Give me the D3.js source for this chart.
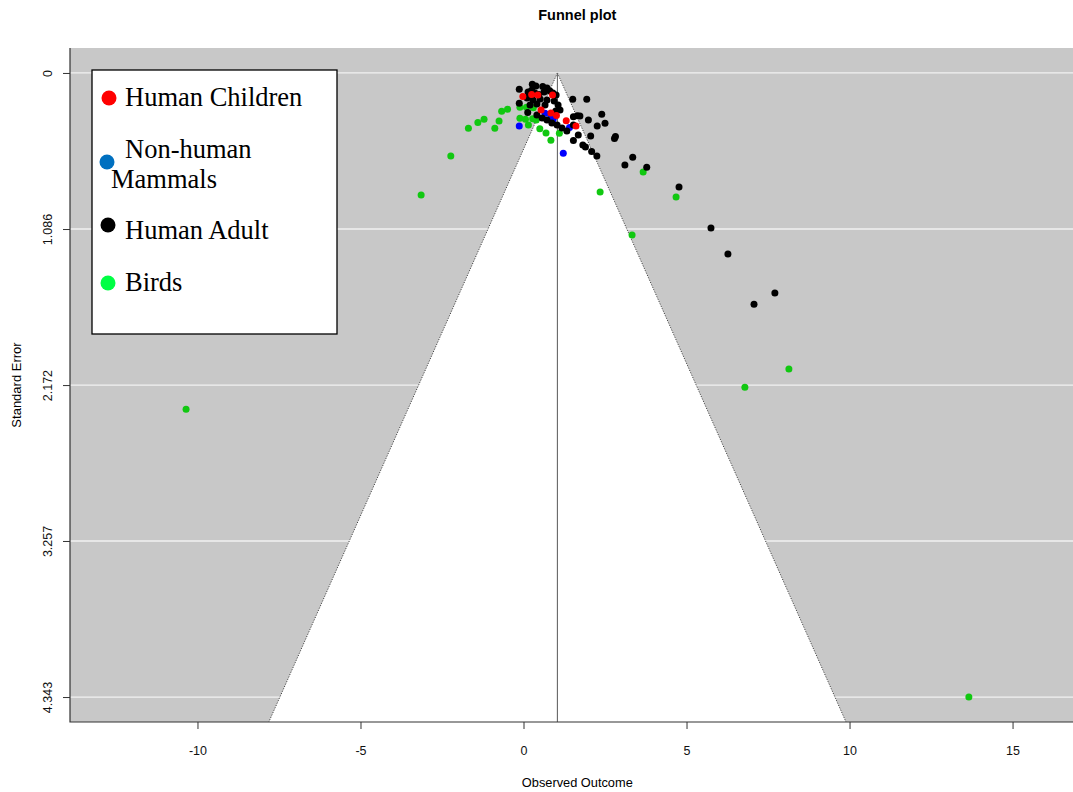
<!DOCTYPE html>
<html>
<head>
<meta charset="utf-8">
<script src="https://cdn.jsdelivr.net/npm/d3@7"></script>
<style>
  html, body { margin: 0; padding: 0; background: #fff; }
  svg { display: block; }
</style>
</head>
<body>
<svg id="chart" width="1073" height="792"></svg>
<script>
// Pooled estimate and axis settings
const pooledEstimate = 1.04;
const maxSE = 4.343;
const xTicks = [-10, -5, 0, 5, 10, 15];
const yTicks = [0, 1.086, 2.172, 3.257, 4.343];
const yTickLabels = ["0", "1.086", "2.172", "3.257", "4.343"];

// Study estimates (observed outcome) and standard errors, by group
const birdsX = [-10.35, -3.14, -2.23, -1.69, -1.40, -1.21, -0.88, -0.75, -0.67, -0.49,
  -0.11, 0.09, 0.30, -0.11, 0.06, 0.15, 0.39, 0.50, 0.69, 0.84, 1.10,
  2.35, 3.67, 4.68, 3.33, 6.79, 8.14, 13.66, 0.28];
const birdsSE = [2.340, 0.850, 0.578, 0.385, 0.345, 0.322, 0.385, 0.334, 0.266, 0.253,
  0.239, 0.239, 0.242, 0.315, 0.322, 0.362, 0.327, 0.389, 0.418, 0.469, 0.420,
  0.829, 0.689, 0.864, 1.128, 2.187, 2.061, 4.343, 0.318];

const mammalsX = [-0.13, 0.66, 0.91, 1.41, 1.22, 0.84];
const mammalsSE = [0.369, 0.281, 0.322, 0.380, 0.559, 0.300];

const adultsX = [-0.13, 0.27, 0.38, 0.59, 0.72, 0.14, 0.35, 0.63, 0.81, 0.90, 1.00,
  0.11, 0.29, 0.51, 0.72, 0.94, -0.13, 0.20, 0.41, 0.66, 1.06, 1.12, 0.13,
  0.41, 0.57, 0.72, 0.87, 1.03, 1.18, 1.33,
  1.51, 1.94, 1.65, 1.99, 1.53, 1.73, 1.53, 1.68, 1.53, 2.06, 1.82, 1.90, 2.09, 2.25,
  2.40, 2.50, 2.26, 2.79, 2.82, 3.35, 3.11, 3.78, 4.77, 5.75, 6.27, 7.71, 7.07,
  0.47, 0.99, 0.25];
const adultsSE = [0.114, 0.079, 0.091, 0.095, 0.104, 0.132, 0.139, 0.132, 0.125, 0.139, 0.153,
  0.174, 0.188, 0.181, 0.188, 0.195, 0.211, 0.223, 0.216, 0.223, 0.223, 0.258, 0.276,
  0.292, 0.313, 0.327, 0.348, 0.362, 0.383, 0.404,
  0.183, 0.183, 0.297, 0.327, 0.304, 0.299, 0.362, 0.432, 0.470, 0.439, 0.501, 0.515, 0.547, 0.578,
  0.288, 0.350, 0.369, 0.456, 0.442, 0.587, 0.641, 0.657, 0.794, 1.079, 1.260, 1.532, 1.609,
  0.150, 0.265, 0.120];

const childrenX = [-0.02, 0.25, 0.89, 0.54, 0.84, 1.01, 1.31, 1.61, 0.44];
const childrenSE = [0.164, 0.150, 0.153, 0.258, 0.279, 0.296, 0.332, 0.369, 0.153];

const legendLabels = [["Human Children"], ["Non-human", "Mammals"], ["Human Adult"], ["Birds"]];
const legendColors = ["#ff0000", "#0070c0", "#000000", "#00ff44"];

const sansFont = "'Liberation Sans', Arial, sans-serif";
const serifFont = "'Liberation Serif', 'Times New Roman', serif";

const svg = d3.select("#chart");

// Plot region (R-style 4% padding around the data limits)
const x = d3.scaleLinear().domain([-13.91, 17.21]).range([70, 1084.6]);
const y = d3.scaleLinear().domain([-0.1737, maxSE + 0.1737]).range([48, 722]);
const [x0, x1] = x.range();
const [y0, y1] = y.range();

svg.append("defs").append("clipPath").attr("id", "plotClip")
  .append("rect").attr("x", x0).attr("y", y0).attr("width", x1 - x0).attr("height", y1 - y0);

const plot = svg.append("g").attr("clip-path", "url(#plotClip)");

// Background and horizontal reference lines
plot.append("rect").attr("x", x0).attr("y", y0).attr("width", x1 - x0).attr("height", y1 - y0)
  .attr("fill", "#c8c8c8");
plot.selectAll("line.grid").data(yTicks).join("line").attr("class", "grid")
  .attr("x1", x0).attr("x2", x1).attr("y1", d => y(d)).attr("y2", d => y(d))
  .attr("stroke", "#f2f2f2").attr("stroke-width", 1.3);

// Pseudo-confidence funnel (estimate ± 1.96·SE)
const seBottom = y.domain()[1];
const funnel = [[pooledEstimate, 0],
  [pooledEstimate + 1.96 * seBottom, seBottom],
  [pooledEstimate - 1.96 * seBottom, seBottom]];
plot.append("path")
  .attr("d", d3.line().x(d => x(d[0])).y(d => y(d[1]))(funnel) + "Z")
  .attr("fill", "#ffffff");
[-1, 1].forEach(s => {
  plot.append("line")
    .attr("x1", x(pooledEstimate)).attr("y1", y(0))
    .attr("x2", x(pooledEstimate + s * 1.96 * seBottom)).attr("y2", y(seBottom))
    .attr("stroke", "#444").attr("stroke-width", 1).attr("stroke-dasharray", "1.2,1.4");
});
plot.append("line")
  .attr("x1", x(pooledEstimate)).attr("x2", x(pooledEstimate))
  .attr("y1", y(0)).attr("y2", y1)
  .attr("stroke", "#666").attr("stroke-width", 1.1);

// Study points
function drawPoints(xs, ses, color) {
  plot.append("g").selectAll("circle").data(xs.map((v, i) => [v, ses[i]])).join("circle")
    .attr("cx", d => x(d[0])).attr("cy", d => y(d[1])).attr("r", 3.5)
    .attr("fill", color);
}
drawPoints(birdsX, birdsSE, "#11c811");
drawPoints(mammalsX, mammalsSE, "#0000ff");
drawPoints(adultsX, adultsSE, "#000000");
drawPoints(childrenX, childrenSE, "#ff0000");

// L-shaped frame
svg.append("path").attr("d", `M${x0},${y0}V${y1}H${x1}`)
  .attr("fill", "none").attr("stroke", "#333").attr("stroke-width", 1.2);

// Axes
const xAxis = svg.append("g").attr("transform", `translate(0,${y1})`)
  .call(d3.axisBottom(x).tickValues(xTicks).tickSize(7).tickPadding(17).tickFormat(d => String(d)));
xAxis.select(".domain").remove();
xAxis.selectAll("line").attr("stroke", "#333");
xAxis.selectAll("text").attr("font-size", 12.5).attr("fill", "#111")
  .style("font-family", sansFont);

const yAxis = svg.append("g").attr("transform", `translate(${x0},0)`)
  .call(d3.axisLeft(y).tickValues(yTicks).tickSize(7).tickFormat((d, i) => yTickLabels[i]));
yAxis.select(".domain").remove();
yAxis.selectAll("line").attr("stroke", "#333");
yAxis.selectAll("text")
  .attr("font-size", 12.5).attr("fill", "#111")
  .style("font-family", sansFont)
  .attr("text-anchor", "middle").attr("x", null).attr("dy", null)
  .attr("transform", "translate(-18,0) rotate(-90)");

// Titles
svg.append("text").attr("x", (x0 + x1) / 2).attr("y", 20).attr("text-anchor", "middle")
  .style("font-family", sansFont)
  .attr("font-size", 14.5).attr("font-weight", "bold").text("Funnel plot");
svg.append("text").attr("x", (x0 + x1) / 2).attr("y", 787).attr("text-anchor", "middle")
  .style("font-family", sansFont)
  .attr("font-size", 12.8).text("Observed Outcome");
svg.append("text").attr("transform", `translate(21,${(y0 + y1) / 2}) rotate(-90)`)
  .style("font-family", sansFont)
  .attr("text-anchor", "middle").attr("font-size", 13).text("Standard Error");

// Legend
const legend = svg.append("g");
legend.append("rect").attr("x", 92).attr("y", 70).attr("width", 245).attr("height", 264)
  .attr("fill", "#fff").attr("stroke", "#000").attr("stroke-width", 1.3);
const legendDotY = [98, 162, 225, 283];
const legendDotX = [109, 107, 108, 108];
const legendTextY = [[106], [158, 188], [239], [291]];
const legendTextX = [[125], [125, 111], [125], [125]];
legendLabels.forEach((lines, i) => {
  legend.append("circle").attr("cx", legendDotX[i]).attr("cy", legendDotY[i]).attr("r", 7.5)
    .attr("fill", legendColors[i]);
  lines.forEach((t, j) => {
    legend.append("text").attr("x", legendTextX[i][j]).attr("y", legendTextY[i][j])
      .style("font-family", serifFont)
      .attr("font-size", 26.5).attr("fill", "#000").text(t);
  });
});
</script>
</body>
</html>
